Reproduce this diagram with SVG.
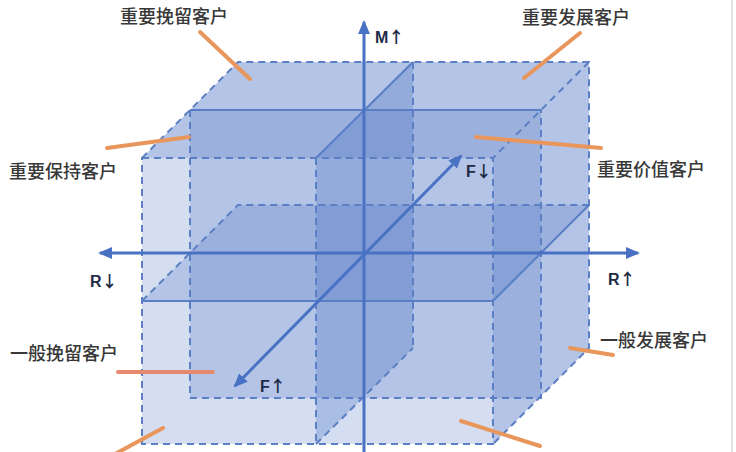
<svg xmlns="http://www.w3.org/2000/svg" width="736" height="452" viewBox="0 0 736 452">
  <defs>
    <style>
      .face { fill: rgb(74,114,196); fill-opacity: 0.23; stroke: none; }
      .dash { fill: none; stroke: #5b7fc4; stroke-width: 2; stroke-dasharray: 7 5; }
      .edge { fill: none; stroke: #5a7ec6; stroke-width: 2; }
      .axis { fill: none; stroke: #4a72c4; stroke-width: 3; }
      .lead { fill: none; stroke: #e8965c; stroke-width: 4; stroke-linecap: round; }
      .cn { font-family: "Noto Sans CJK SC", "Noto Sans", sans-serif; font-size: 18px; font-weight: 500; fill: #383838; text-anchor: middle; }
      .ax { font-family: "Liberation Sans", "DejaVu Sans", sans-serif; font-size: 16px; font-weight: bold; fill: #1f2b45; }
      .ar { font-family: "Noto Sans CJK SC", "DejaVu Sans", sans-serif; font-size: 16px; font-weight: bold; }
    </style>
    <marker id="arr" markerUnits="userSpaceOnUse" markerWidth="14" markerHeight="12" refX="12" refY="6" orient="auto-start-reverse">
      <path d="M0,0 L14,6 L0,12 z" fill="#4a72c4"/>
    </marker>
  </defs>
  <rect x="0" y="0" width="736" height="452" fill="#ffffff"/>
  <line x1="732" y1="0" x2="732" y2="452" stroke="#dcdcdc" stroke-width="1.5"/>

  <g id="cube">
    <polygon id="face-back" class="face" points="238,62 589,62 589,348 238,348"/>
    <polygon id="face-top" class="face" points="142,158 493,158 589,62 238,62"/>
    <polygon id="face-left" class="face" points="142,158 238,62 238,348 142,444"/>
    <polygon id="face-right" class="face" points="493,158 589,62 589,348 493,444"/>
    <polygon id="face-bottom" class="face" points="142,444 493,444 589,348 238,348"/>
    <polygon id="plane-f" class="face" points="190,110 541,110 541,398 190,398"/>
    <polygon id="plane-m" class="face" points="142,301 493,301 589,205 238,205"/>
    <polygon id="plane-r" class="face" points="316,158 413,62 413,348 316,444" style="fill-opacity:0.3"/>

    <g id="edges">
      <polyline class="dash" points="142,158 238,62 589,62 589,348 493,444"/>
      <line class="dash" x1="589" y1="62" x2="493" y2="158"/>
      <rect class="dash" x="142" y="158" width="351" height="286"/>
      <line class="edge" x1="190" y1="110" x2="541" y2="110"/>
      <polyline class="dash" points="190,110 190,398 541,398 541,110"/>
      <line class="edge" x1="142" y1="301" x2="493" y2="301"/>
      <line class="edge" x1="493" y1="301" x2="589" y2="205"/>
      <polyline class="dash" points="142,301 238,205 589,205"/>
      <line class="edge" x1="316" y1="158" x2="413" y2="62"/>
      <line class="dash" x1="316" y1="158" x2="316" y2="444"/>
      <line class="dash" x1="413" y1="62" x2="413" y2="348"/>
      <line class="dash" x1="316" y1="444" x2="413" y2="348"/>
    </g>
  </g>

  <g id="connectors">
    <line id="axis-r" class="axis" x1="100" y1="253" x2="638" y2="253" marker-start="url(#arr)" marker-end="url(#arr)"/>
    <line id="axis-m" class="axis" x1="364" y1="452" x2="364" y2="22" marker-end="url(#arr)"/>
    <line id="axis-f" class="axis" x1="235" y1="386" x2="461" y2="156" marker-start="url(#arr)" marker-end="url(#arr)"/>
    <line class="lead" x1="200" y1="32" x2="250" y2="79"/>
    <line class="lead" x1="580" y1="33" x2="524" y2="78"/>
    <line class="lead" x1="107" y1="148" x2="189" y2="137"/>
    <line class="lead" x1="476" y1="137" x2="601" y2="148"/>
    <line class="lead" x1="118" y1="372" x2="213" y2="372" style="stroke:#e5896f"/>
    <line class="lead" x1="570" y1="348" x2="613" y2="355"/>
    <line class="lead" x1="461" y1="421" x2="540" y2="446"/>
    <line class="lead" x1="163" y1="428" x2="115" y2="454"/>
  </g>

  <g id="axis-labels">
    <text id="lbl-m" class="ax" x="375" y="43">M<tspan class="ar">↑</tspan></text>
    <text id="lbl-fd" class="ax" x="466" y="177">F<tspan class="ar">↓</tspan></text>
    <text id="lbl-rd" class="ax" x="90" y="287">R<tspan class="ar">↓</tspan></text>
    <text id="lbl-ru" class="ax" x="608" y="285">R<tspan class="ar">↑</tspan></text>
    <text id="lbl-fu" class="ax" x="260" y="392">F<tspan class="ar">↑</tspan></text>
  </g>

  <g id="segment-labels">
    <text id="seg1" class="cn" x="174" y="23">重要挽留客户</text>
    <text id="seg2" class="cn" x="576" y="24">重要发展客户</text>
    <text id="seg3" class="cn" x="63" y="178">重要保持客户</text>
    <text id="seg4" class="cn" x="651" y="176">重要价值客户</text>
    <text id="seg5" class="cn" x="64" y="360">一般挽留客户</text>
    <text id="seg6" class="cn" x="654" y="347">一般发展客户</text>
  </g>
</svg>
